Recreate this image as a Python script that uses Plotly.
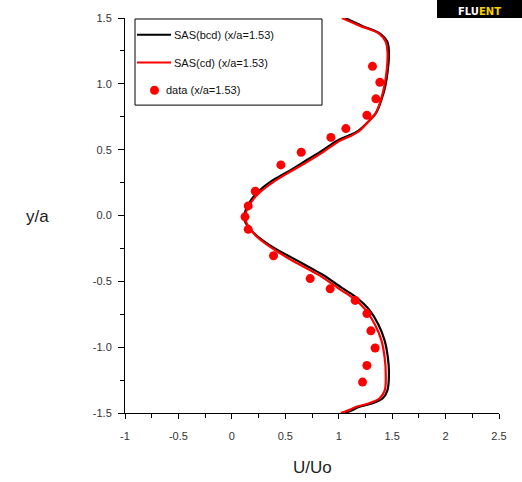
import plotly.graph_objects as go

# Velocity profiles at x/a = 1.53
sas_bcd_u = [1.06, 1.22, 1.39, 1.455, 1.47, 1.46, 1.435, 1.40, 1.35, 1.285, 1.185, 1.09, 0.99,
             0.83, 0.67, 0.52, 0.36, 0.245, 0.17, 0.125, 0.12, 0.22, 0.39, 0.56, 0.75, 0.85,
             1.03, 1.17, 1.28, 1.37, 1.43, 1.46, 1.47, 1.455, 1.41, 1.30, 1.19, 1.12, 1.06]
sas_bcd_y = [1.50, 1.44, 1.38, 1.32, 1.23, 1.11, 0.98, 0.88, 0.78, 0.72, 0.645, 0.605, 0.57,
             0.485, 0.405, 0.33, 0.255, 0.18, 0.105, 0.03, -0.04, -0.145, -0.245, -0.32, -0.405, -0.45,
             -0.55, -0.625, -0.71, -0.825, -0.95, -1.08, -1.20, -1.33, -1.39, -1.43, -1.455, -1.48, -1.50]

sas_cd_u = [1.03, 1.20, 1.38, 1.44, 1.457, 1.45, 1.426, 1.395, 1.348, 1.285, 1.19, 1.10, 1.005,
            0.85, 0.69, 0.54, 0.38, 0.26, 0.18, 0.135, 0.13, 0.22, 0.38, 0.54, 0.72, 0.82,
            1.00, 1.14, 1.25, 1.34, 1.40, 1.43, 1.44, 1.43, 1.38, 1.27, 1.16, 1.09, 1.02]
sas_cd_y = [1.50, 1.44, 1.38, 1.32, 1.23, 1.11, 0.98, 0.88, 0.78, 0.72, 0.64, 0.60, 0.565,
            0.48, 0.40, 0.33, 0.25, 0.175, 0.10, 0.03, -0.04, -0.15, -0.25, -0.33, -0.41, -0.455,
            -0.555, -0.63, -0.715, -0.83, -0.95, -1.08, -1.20, -1.33, -1.39, -1.43, -1.455, -1.48, -1.50]

data_u = [1.316, 1.385, 1.348, 1.264, 1.067, 0.927, 0.649, 0.459, 0.219, 0.153, 0.123,
          0.153, 0.390, 0.733, 0.920, 1.154, 1.264, 1.301, 1.341, 1.264, 1.223]
data_y = [1.133, 1.012, 0.886, 0.761, 0.660, 0.593, 0.480, 0.384, 0.184, 0.073, -0.010,
          -0.105, -0.306, -0.479, -0.557, -0.645, -0.745, -0.876, -1.006, -1.139, -1.265]

x_tickvals = [-1, -0.5, 0, 0.5, 1, 1.5, 2, 2.5]
x_ticktext = ["-1", "-0.5", "0", "0.5", "1", "1.5", "2", "2.5"]
y_tickvals = [1.5, 1.0, 0.5, 0.0, -0.5, -1.0, -1.5]
y_ticktext = ["1.5", "1.0", "0.5", "0.0", "-0.5", "-1.0", "-1.5"]

legend_labels = ["SAS(bcd) (x/a=1.53)", "SAS(cd) (x/a=1.53)", "data (x/a=1.53)"]

FONT = "Liberation Sans"

fig = go.Figure()
fig.add_trace(go.Scatter(x=sas_bcd_u, y=sas_bcd_y, mode="lines", line=dict(color="black", width=2.2),
                         line_shape="spline", name=legend_labels[0], showlegend=False))
fig.add_trace(go.Scatter(x=sas_cd_u, y=sas_cd_y, mode="lines", line=dict(color="#ff0000", width=2.2),
                         line_shape="spline", name=legend_labels[1], showlegend=False))
fig.add_trace(go.Scatter(x=data_u, y=data_y, mode="markers",
                         marker=dict(color="#ff0000", size=9, line=dict(width=0)),
                         name=legend_labels[2], showlegend=False))

W, H = 522, 482
L, R, T, B = 125, 23, 14, 69
pw, ph = W - L - R, H - T - B


def px(x):
    return (x - L) / pw


def py(y):
    return 1 - (y - T) / ph


shapes = []
annotations = []

# legend box drawn in paper coordinates
shapes.append(dict(type="rect", xref="paper", yref="paper", x0=px(135), x1=px(322), y0=py(102), y1=py(15),
                   line=dict(color="black", width=1), fillcolor="white", layer="above"))
rows = [31, 59, 87]
shapes.append(dict(type="line", xref="paper", yref="paper", x0=px(137), x1=px(171), y0=py(rows[0]), y1=py(rows[0]),
                   line=dict(color="black", width=2), layer="above"))
shapes.append(dict(type="line", xref="paper", yref="paper", x0=px(137), x1=px(171), y0=py(rows[1]), y1=py(rows[1]),
                   line=dict(color="#ff0000", width=2), layer="above"))
shapes.append(dict(type="circle", xref="paper", yref="paper", x0=px(150), x1=px(159), y0=py(rows[2] + 4.5),
                   y1=py(rows[2] - 4.5), line=dict(width=0), fillcolor="#ff0000", layer="above"))
text_x = [172, 172, 164]
for lbl, yy, xx in zip(legend_labels, rows, text_x):
    annotations.append(dict(text=lbl, xref="paper", yref="paper", x=px(xx), y=py(yy), xanchor="left",
                            yanchor="middle", showarrow=False, font=dict(family=FONT, size=11, color="#111")))

# logo block in the corner
shapes.append(dict(type="rect", xref="paper", yref="paper", x0=px(437), x1=px(540), y0=py(14), y1=py(-20),
                   line=dict(width=0), fillcolor="black", layer="above"))
annotations.append(dict(text="<b>FLU<span style='color:#f5d000'>ENT</span></b>", xref="paper", yref="paper",
                        x=px(479), y=py(7), xanchor="center", yanchor="middle", showarrow=False,
                        font=dict(family="DejaVu Sans", size=10, color="white")))

# axis titles
annotations.append(dict(text="U/Uo", xref="paper", yref="paper", x=px(312), y=py(468), xanchor="center",
                        yanchor="middle", showarrow=False, font=dict(family=FONT, size=17, color="#222")))
annotations.append(dict(text="y/a", xref="paper", yref="paper", x=px(37), y=py(215), xanchor="center",
                        yanchor="middle", showarrow=False, font=dict(family=FONT, size=17, color="#222")))

fig.update_layout(
    width=W, height=H,
    margin=dict(l=L, r=R, t=T, b=B),
    paper_bgcolor="white", plot_bgcolor="white",
    shapes=shapes, annotations=annotations,
    showlegend=False,
    xaxis=dict(range=[-1, 2.5], tickvals=x_tickvals, ticktext=x_ticktext, showgrid=False, zeroline=False,
               showline=True, linecolor="black", linewidth=1, ticks="outside", ticklen=5, tickcolor="black",
               minor=dict(ticks="outside", ticklen=4, dtick=0.25, tick0=0, tickcolor="black", showgrid=False),
               tickfont=dict(family=FONT, size=11, color="#333"), ticklabelstandoff=8),
    yaxis=dict(range=[-1.5, 1.5], tickvals=y_tickvals, ticktext=y_ticktext, showgrid=False, zeroline=False,
               showline=True, linecolor="black", linewidth=1, ticks="outside", ticklen=6, tickcolor="black",
               minor=dict(ticks="outside", ticklen=4, dtick=0.25, tick0=0, tickcolor="black", showgrid=False),
               tickfont=dict(family=FONT, size=11, color="#333"), ticklabelstandoff=4),
)

fig.write_html("out.html")
